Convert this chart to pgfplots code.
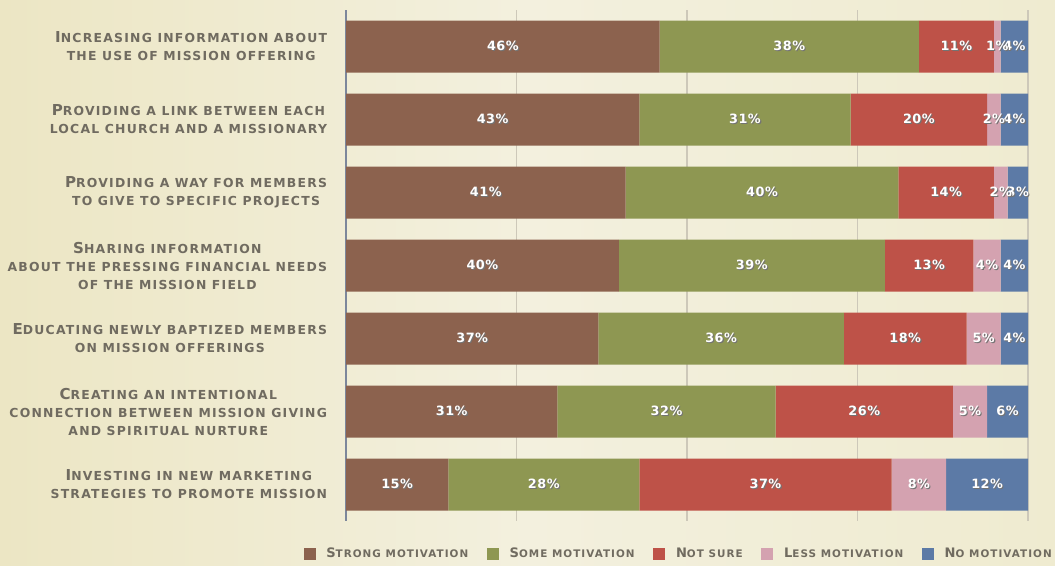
\documentclass[border=0pt]{standalone}
\usepackage{pgfplots}
\pgfplotsset{compat=1.18}
\usepackage{fontspec}
\setmainfont{DejaVu Sans}
\newfontfamily\labfont[LetterSpace=10]{DejaVu Sans}
\newfontfamily\valfont[LetterSpace=4]{DejaVu Sans}

\definecolor{bgl}{RGB}{236,230,196}
\definecolor{bgm}{RGB}{243,240,222}
\definecolor{bgr}{RGB}{239,235,208}
\definecolor{labgray}{RGB}{112,107,96}
\definecolor{gridc}{RGB}{205,200,185}
\definecolor{axisc}{RGB}{125,135,155}
\definecolor{cstrong}{RGB}{140,98,78}
\definecolor{csome}{RGB}{142,151,82}
\definecolor{cnot}{RGB}{190,82,72}
\definecolor{cless}{RGB}{212,162,176}
\definecolor{cno}{RGB}{92,122,166}

\newcommand\Ini[1]{{\fontsize{11.3}{13.5}\selectfont#1}}
\newcommand\IniL[1]{{\fontsize{9.8}{11}\selectfont#1}}
\newcommand\val{\rlap{\kern0.8pt\raisebox{-0.8pt}{\textcolor{black!55}{\pgfmathprintnumber{\pgfplotspointmeta}\%}}}\pgfmathprintnumber{\pgfplotspointmeta}\%}

% rows 0..6 top to bottom
\pgfplotstableread{
r strong some notsure less no
0 46 38 11 1 4
1 43 31 20 2 4
2 41 40 14 2 3
3 40 39 13 4 4
4 37 36 18 5 4
5 31 32 26 5 6
6 15 28 37 8 12
}\motiv

\begin{document}
\begin{tikzpicture}
\shade[left color=bgl, right color=bgr, middle color=bgm] (0,0) rectangle (791.25pt,423.75pt);
\begin{axis}[
    at={(259.5pt,33pt)}, anchor=south west,
    scale only axis,
    width=511.5pt, height=383.25pt,
    xbar stacked,
    bar width=39pt,
    xmin=0, xmax=100,
    ymin=-0.5, ymax=6.5,
    y dir=reverse,
    axis line style={draw=none},
    major tick length=0pt,
    xtick={25,50,75,100},
    xticklabels={},
    extra x ticks={0},
    extra x tick labels={},
    extra x tick style={major grid style={axisc, line width=0.9pt}},
    xmajorgrids,
    major grid style={gridc, line width=0.8pt},
    ytick={0,...,6},
    yticklabels={
      {\Ini{I}NCREASING INFORMATION ABOUT\\THE USE OF MISSION OFFERING},
      {\Ini{P}ROVIDING A LINK BETWEEN EACH\\LOCAL CHURCH AND A MISSIONARY},
      {\Ini{P}ROVIDING A WAY FOR MEMBERS\\TO GIVE TO SPECIFIC PROJECTS},
      {\Ini{S}HARING INFORMATION\\ABOUT THE PRESSING FINANCIAL NEEDS\\OF THE MISSION FIELD},
      {\Ini{E}DUCATING NEWLY BAPTIZED MEMBERS\\ON MISSION OFFERINGS},
      {\Ini{C}REATING AN INTENTIONAL\\CONNECTION BETWEEN MISSION GIVING\\AND SPIRITUAL NURTURE},
      {\Ini{I}NVESTING IN NEW MARKETING\\STRATEGIES TO PROMOTE MISSION}},
    yticklabel style={align=center, font=\labfont\bfseries\fontsize{9.3}{13.5}\selectfont,
      text=labgray, inner sep=0pt, xshift=-14pt},
    every axis plot/.append style={draw=none},
    point meta=explicit,
    /pgf/number format/assume math mode=true,
    nodes near coords={\val},
    every node near coord/.append style={font=\valfont\bfseries\fontsize{9.6}{11}\selectfont, text=white},
    legend columns=-1,
    legend style={at={(1.045,-0.0646)}, anchor=east, draw=none, fill=none,
      font=\labfont\bfseries\fontsize{7.8}{9}\selectfont, text=labgray,
      /tikz/every odd column/.append style={column sep=6pt},
      /tikz/every even column/.append style={column sep=12pt}},
    legend image code/.code={\path[#1] (0pt,-4.5pt) rectangle (9pt,4.5pt);},
]
\addplot[fill=cstrong] table[x=strong, y=r, meta=strong] {\motiv};
\addplot[fill=csome] table[x=some, y=r, meta=some] {\motiv};
\addplot[fill=cnot] table[x=notsure, y=r, meta=notsure] {\motiv};
\addplot[fill=cless] table[x=less, y=r, meta=less] {\motiv};
\addplot[fill=cno] table[x=no, y=r, meta=no] {\motiv};
\legend{\IniL{S}TRONG MOTIVATION, \IniL{S}OME MOTIVATION, \IniL{N}OT SURE, \IniL{L}ESS MOTIVATION, \IniL{N}O MOTIVATION}
\end{axis}
\pgfresetboundingbox
\useasboundingbox (0,0) rectangle (791.25pt,423.75pt);
\end{tikzpicture}
\end{document}
